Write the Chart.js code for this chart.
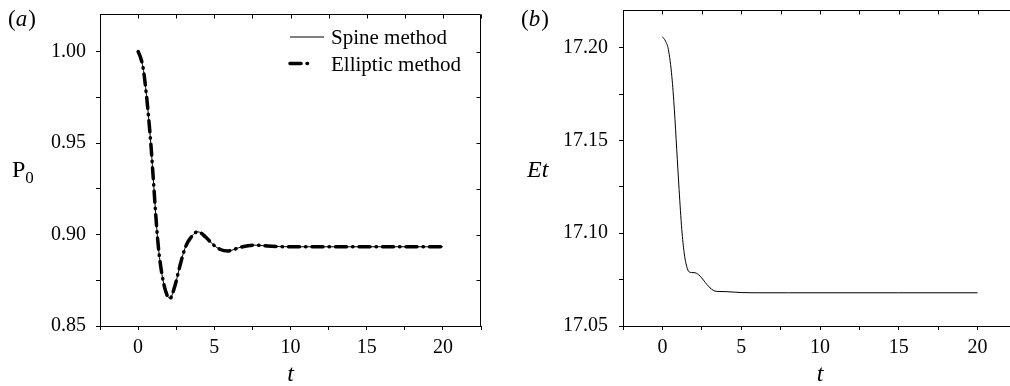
<!DOCTYPE html>
<html>
<head>
<meta charset="utf-8">
<script src="https://cdn.jsdelivr.net/npm/chart.js@4.4.0/dist/chart.umd.min.js"></script>
<style>
  html, body { margin: 0; padding: 0; background: #fff; overflow: hidden; width: 1010px; height: 386px; }
  .panel { position: absolute; top: 0; height: 386px; }
  #boxA { left: 0; width: 505px; }
  #boxB { left: 505px; width: 515px; }
</style>
</head>
<body>
<div class="panel" id="boxA"><canvas id="chartA" width="505" height="386"></canvas></div>
<div class="panel" id="boxB"><canvas id="chartB" width="515" height="386"></canvas></div>
<script>
// (a) pressure P0 vs t
const timeP0 = [0, 0.15, 0.33, 0.55, 0.7, 0.85, 1.0, 1.2, 1.35, 1.57, 1.79, 2.08, 2.45, 2.78, 3.1, 3.43, 3.91, 4.42, 4.96, 5.4, 5.88, 6.7, 7.6, 8.5, 10, 12, 14, 16, 18, 20];
const spineP0 = [1.000, 0.997, 0.991, 0.976, 0.963, 0.948, 0.930, 0.906, 0.8915, 0.878, 0.8695, 0.865, 0.873, 0.884, 0.893, 0.898, 0.9015, 0.8987, 0.8942, 0.8918, 0.891, 0.893, 0.8942, 0.8937, 0.8933, 0.8933, 0.8933, 0.8933, 0.8933, 0.8933];
const ellipticP0 = [1.000, 0.997, 0.991, 0.976, 0.963, 0.948, 0.930, 0.906, 0.8915, 0.878, 0.8695, 0.865, 0.873, 0.884, 0.893, 0.898, 0.9015, 0.8987, 0.8942, 0.8918, 0.891, 0.893, 0.8942, 0.8937, 0.8933, 0.8933, 0.8933, 0.8933, 0.8933, 0.8933];

// (b) energy Et vs t
const timeEt = [0, 0.2, 0.38, 0.6, 0.76, 0.91, 1.06, 1.23, 1.38, 1.5, 1.65, 1.85, 2.07, 2.39, 2.82, 3.1, 3.34, 3.6, 4.09, 5.04, 6, 8, 10, 15, 20];
const spineEt = [17.2059, 17.2035, 17.199, 17.1844, 17.1665, 17.145, 17.1235, 17.102, 17.0895, 17.0835, 17.0796, 17.0788, 17.0787, 17.0769, 17.0724, 17.0700, 17.0688, 17.0686, 17.0685, 17.068, 17.0679, 17.0679, 17.0679, 17.0679, 17.0679];

// ticks (every tick gets a mark, only some get a label)
const xTicks = [-2.5, 0, 2.5, 5, 7.5, 10, 12.5, 15, 17.5, 20, 22.5];
const xTickLabels = ['', '0', '', '5', '', '10', '', '15', '', '20', ''];
const yTicksP0 = [0.85, 0.875, 0.9, 0.925, 0.95, 0.975, 1.0];
const yTickLabelsP0 = ['0.85', '', '0.90', '', '0.95', '', '1.00'];
const yTicksEt = [17.05, 17.075, 17.1, 17.125, 17.15, 17.175, 17.2];
const yTickLabelsEt = ['17.05', '', '17.10', '', '17.15', '', '17.20'];

const SERIF = "'Liberation Serif', 'Times New Roman', serif";

function toPoints(xs, ys) {
  return xs.map((x, i) => ({ x: x, y: ys[i] }));
}

// top/right spines with inward ticks, panel letter, y title, legend
const framePlugin = {
  id: 'frame',
  afterDraw(chart, args, opts) {
    const { ctx, chartArea: a } = chart;
    const xs = chart.scales.x, ys = chart.scales.y;
    ctx.save();
    ctx.strokeStyle = '#000';
    ctx.lineWidth = 1;
    const top = Math.round(a.top) + 0.5;
    const right = Math.round(a.right) - 0.5;
    ctx.beginPath();
    ctx.moveTo(a.left, top);
    ctx.lineTo(right, top);
    ctx.lineTo(right, a.bottom);
    xs.ticks.forEach(t => {
      const px = Math.round(xs.getPixelForValue(t.value)) + 0.5;
      ctx.moveTo(px, top);
      ctx.lineTo(px, top + 4);
    });
    ys.ticks.forEach(t => {
      const py = Math.round(ys.getPixelForValue(t.value)) + 0.5;
      ctx.moveTo(right, py);
      ctx.lineTo(right - 4, py);
    });
    ctx.stroke();

    ctx.fillStyle = '#000';
    ctx.textBaseline = 'alphabetic';
    ctx.textAlign = 'left';

    // (a) / (b)
    let lx = opts.letterX;
    ctx.font = '23px ' + SERIF;
    ctx.fillText('(', lx, opts.letterY);
    lx += ctx.measureText('(').width;
    ctx.font = 'italic 23px ' + SERIF;
    ctx.fillText(opts.letter, lx, opts.letterY);
    lx += ctx.measureText(opts.letter).width + 1;
    ctx.font = '23px ' + SERIF;
    ctx.fillText(')', lx, opts.letterY);

    // y axis title, written upright
    ctx.font = (opts.yItalic ? 'italic ' : '') + '24px ' + SERIF;
    ctx.fillText(opts.yTitle, opts.yTitleX, opts.yTitleY);
    if (opts.ySub) {
      const w = ctx.measureText(opts.yTitle).width;
      ctx.font = '17px ' + SERIF;
      ctx.fillText(opts.ySub, opts.yTitleX + w, opts.yTitleY + 6);
    }

    // legend inside the plot
    if (opts.legendX) {
      const dsList = chart.data.datasets;
      dsList.forEach((ds, i) => {
        const cy = opts.legendY + i * opts.legendStep;
        ctx.save();
        ctx.beginPath();
        ctx.strokeStyle = ds.borderColor;
        ctx.lineWidth = ds.borderWidth;
        ctx.lineCap = ds.borderCapStyle || 'butt';
        ctx.setLineDash(ds.borderDash || []);
        ctx.moveTo(opts.legendX, cy);
        ctx.lineTo(opts.legendX + (ds.borderDash ? 18 : 34), cy);
        ctx.stroke();
        ctx.restore();
        ctx.font = '21px ' + SERIF;
        ctx.fillText(ds.label, opts.legendX + 41, cy + 7);
      });
    }
    ctx.restore();
  }
};

function axisX() {
  return {
    type: 'linear',
    min: -2.5,
    max: 22.5,
    afterBuildTicks: s => { s.ticks = xTicks.map(v => ({ value: v })); },
    afterFit: s => { s.height = 60; s.paddingLeft = 0; s.paddingRight = 0; },
    ticks: {
      autoSkip: false,
      maxRotation: 0,
      padding: 6,
      color: '#000',
      font: { family: SERIF, size: 20 },
      callback: v => xTickLabels[xTicks.indexOf(v)]
    },
    grid: { drawOnChartArea: false, drawTicks: true, tickLength: 4, tickColor: '#000', tickWidth: 1 },
    border: { display: true, color: '#000', width: 1 },
    title: {
      display: true,
      text: 't',
      color: '#000',
      font: { family: SERIF, size: 24, style: 'italic', lineHeight: 1 },
      padding: { top: 0, bottom: -1 }
    }
  };
}

function axisY(ticks, labels, min, max, width, pad) {
  return {
    type: 'linear',
    min: min,
    max: max,
    afterBuildTicks: s => { s.ticks = ticks.map(v => ({ value: v })); },
    afterFit: s => { s.width = width; s.paddingTop = 0; s.paddingBottom = 0; },
    ticks: {
      autoSkip: false,
      padding: pad,
      color: '#000',
      font: { family: SERIF, size: 20 },
      callback: v => labels[ticks.indexOf(v)]
    },
    grid: { drawOnChartArea: false, drawTicks: true, tickLength: 4, tickColor: '#000', tickWidth: 1 },
    border: { display: true, color: '#000', width: 1 }
  };
}

new Chart(document.getElementById('chartA').getContext('2d'), {
  type: 'line',
  data: {
    datasets: [
      {
        label: 'Spine method',
        data: toPoints(timeP0, spineP0),
        borderColor: '#000',
        borderWidth: 1,
        pointRadius: 0,
        cubicInterpolationMode: 'monotone',
        order: 1
      },
      {
        label: 'Elliptic method',
        data: toPoints(timeP0, ellipticP0),
        borderColor: '#000',
        borderWidth: 3.5,
        borderDash: [11, 6, 0.5, 6],
        borderCapStyle: 'round',
        pointRadius: 0,
        cubicInterpolationMode: 'monotone',
        order: 0
      }
    ]
  },
  options: {
    responsive: false,
    animation: false,
    layout: { padding: { top: 14, right: 24, left: 0, bottom: 0 } },
    scales: {
      x: axisX(),
      y: axisY(yTicksP0, yTickLabelsP0, 0.85, 1.0205, 100, 10)
    },
    plugins: {
      legend: { display: false },
      tooltip: { enabled: false },
      frame: {
        letter: 'a', letterX: 8, letterY: 26,
        yTitle: 'P', ySub: '0', yItalic: false, yTitleX: 12, yTitleY: 177,
        legendX: 290, legendY: 37, legendStep: 26.5
      }
    }
  },
  plugins: [framePlugin]
});

new Chart(document.getElementById('chartB').getContext('2d'), {
  type: 'line',
  data: {
    datasets: [
      {
        label: 'Et',
        data: toPoints(timeEt, spineEt),
        borderColor: '#000',
        borderWidth: 1,
        pointRadius: 0,
        cubicInterpolationMode: 'monotone'
      }
    ]
  },
  options: {
    responsive: false,
    animation: false,
    layout: { padding: { top: 10, right: 3, left: 0, bottom: 0 } },
    scales: {
      x: axisX(),
      y: axisY(yTicksEt, yTickLabelsEt, 17.05, 17.2203, 118, 11)
    },
    plugins: {
      legend: { display: false },
      tooltip: { enabled: false },
      frame: {
        letter: 'b', letterX: 16, letterY: 26,
        yTitle: 'Et', ySub: '', yItalic: true, yTitleX: 22, yTitleY: 177,
        legendX: 0
      }
    }
  },
  plugins: [framePlugin]
});
</script>
</body>
</html>
